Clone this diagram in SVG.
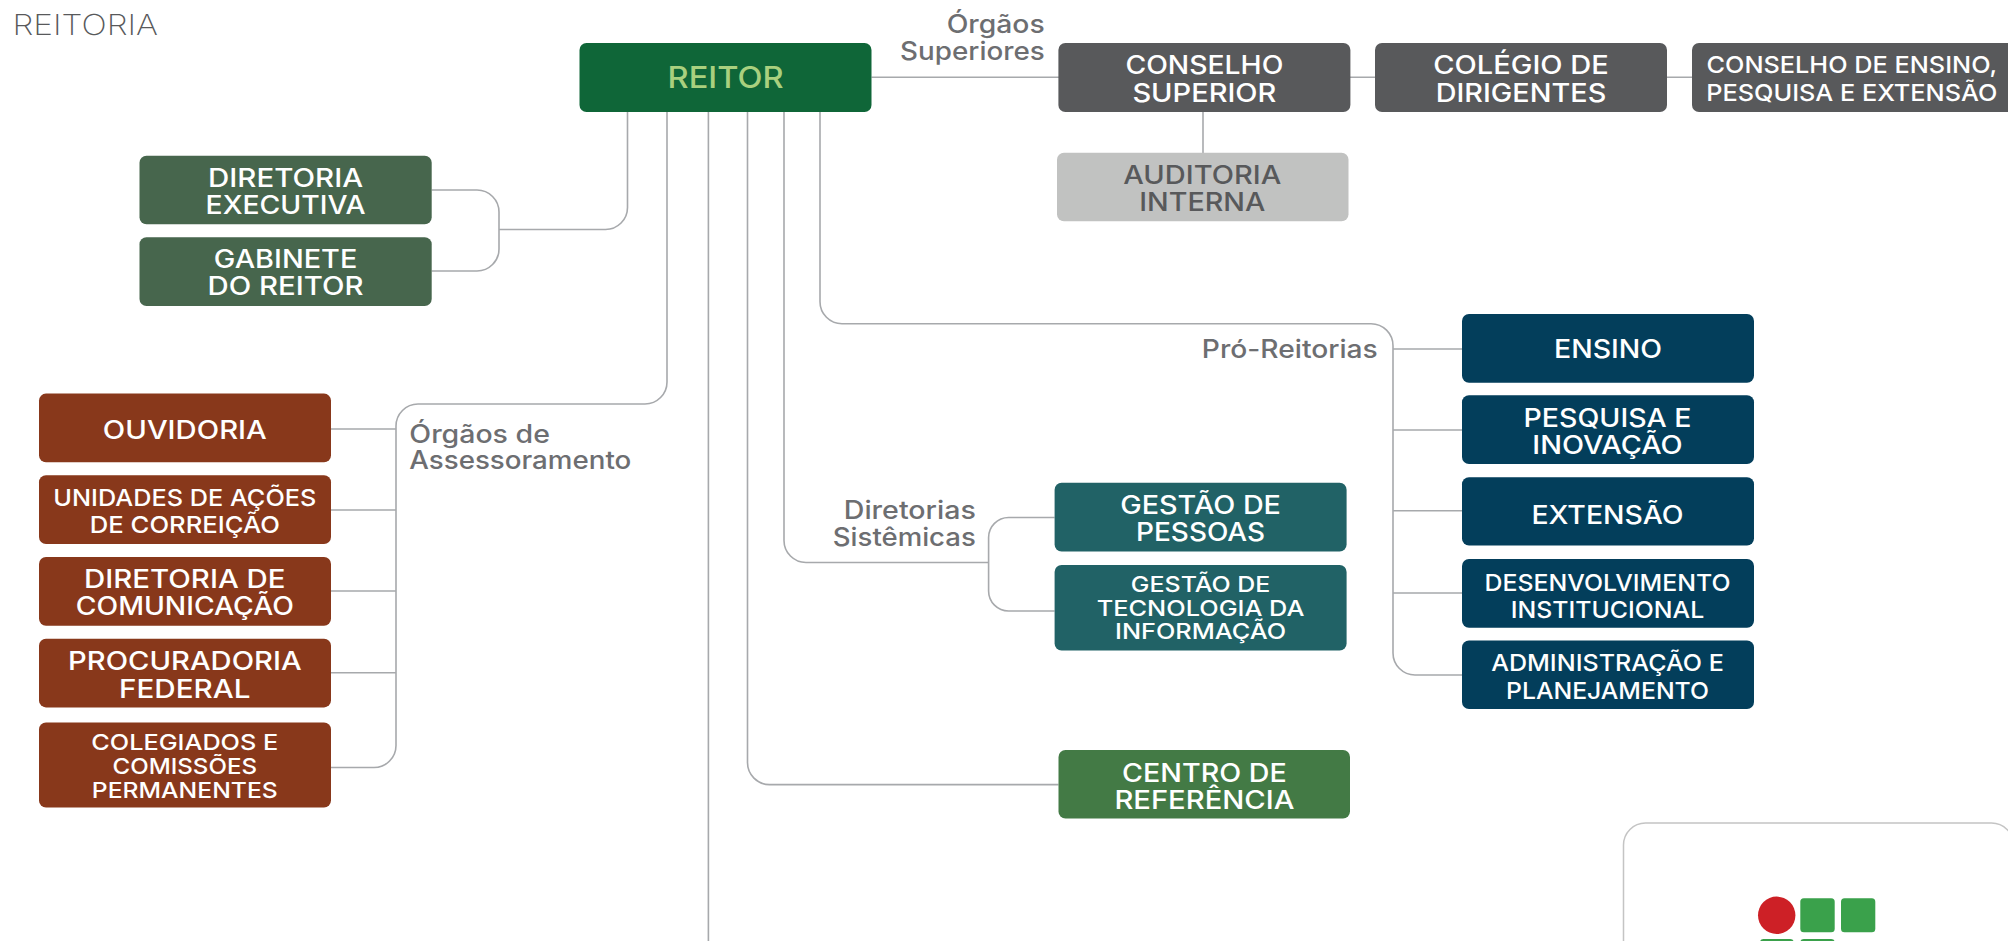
<svg xmlns="http://www.w3.org/2000/svg" width="2008" height="941" viewBox="0 0 2008 941">
<style>
text{font-family:"Inter","Liberation Sans",sans-serif;font-weight:500;text-anchor:middle;fill:#fff;font-size:25.2px}
.s{font-size:22px}
.m{font-size:23.5px}
.lab{fill:#6d6e71;font-size:25px}
.e{text-anchor:end}
.st{text-anchor:start}
.c{fill:none;stroke:#a7a9ac;stroke-width:1.6}
.d{fill:#3aa14b}
</style>
<rect width="2008" height="941" fill="#fff"/>
<text id="title" x="12.5" y="35" class="st" style="font-weight:200;fill:#58595b;font-size:29px" textLength="145.5" lengthAdjust="spacingAndGlyphs">REITORIA</text>
<g id="connectors" class="c">
<path d="M871.5 77.3H1692"/>
<path d="M1203 112V153"/>
<path d="M627.5 112V207.5a22 22 0 0 1-22 22H499"/>
<path d="M431.7 190H477a22 22 0 0 1 22 22V249a22 22 0 0 1-22 22H431.7"/>
<path d="M667 112V382a22 22 0 0 1-22 22H418a22 22 0 0 0-22 22V745.5a22 22 0 0 1-22 22H331"/>
<path d="M331 429H396M331 510H396M331 591H396M331 672.7H396"/>
<path d="M708.4 112V941"/>
<path d="M747.5 112V762.6a22 22 0 0 0 22 22H1058.5"/>
<path d="M784 112V540.5a22 22 0 0 0 22 22H988.6"/>
<path d="M1054.6 517.5H1008.6a20 20 0 0 0-20 20V591a20 20 0 0 0 20 20H1054.6"/>
<path d="M820 112V301.7a22 22 0 0 0 22 22H1371a22 22 0 0 1 22 22V653a22 22 0 0 0 22 22H1462"/>
<path d="M1393 349H1462M1393 430H1462M1393 510.8H1462M1393 593H1462"/>
</g>
<g id="reitor"><rect x="579.5" y="43" width="292" height="69" rx="7" fill="#0f6638"/><text x="725.6" y="88.3" style="fill:#a9d07f;font-size:30px" textLength="116" lengthAdjust="spacingAndGlyphs">REITOR</text></g>
<g id="diretoria-executiva"><rect x="139.5" y="155.7" width="292.2" height="68.6" rx="7" fill="#47664d"/><text x="285.6" y="187.3" textLength="155" lengthAdjust="spacingAndGlyphs">DIRETORIA</text><text x="285.6" y="214" textLength="160" lengthAdjust="spacingAndGlyphs">EXECUTIVA</text></g>
<g id="gabinete"><rect x="139.5" y="237.3" width="292.2" height="68.7" rx="7" fill="#47664d"/><text x="285.6" y="268.3" textLength="143.5" lengthAdjust="spacingAndGlyphs">GABINETE</text><text x="285.6" y="295.3" textLength="156" lengthAdjust="spacingAndGlyphs">DO REITOR</text></g>
<g id="conselho-superior"><rect x="1058.4" y="43" width="292" height="69" rx="7" fill="#58595b"/><text x="1204.4" y="74" textLength="158" lengthAdjust="spacingAndGlyphs">CONSELHO</text><text x="1204.4" y="101.6" textLength="144" lengthAdjust="spacingAndGlyphs">SUPERIOR</text></g>
<g id="colegio"><rect x="1375" y="43" width="292" height="69" rx="7" fill="#58595b"/><text x="1521" y="74" textLength="175.5" lengthAdjust="spacingAndGlyphs">COLÉGIO DE</text><text x="1521" y="101.6" textLength="170.5" lengthAdjust="spacingAndGlyphs">DIRIGENTES</text></g>
<g id="consepe"><rect x="1692" y="43" width="322" height="69" rx="7" fill="#58595b"/><text x="1851.8" y="73" class="m" textLength="290.6" lengthAdjust="spacingAndGlyphs">CONSELHO DE ENSINO,</text><text x="1851.8" y="100.5" class="m" textLength="291" lengthAdjust="spacingAndGlyphs">PESQUISA E EXTENSÃO</text></g>
<g id="auditoria"><rect x="1057" y="152.7" width="291.5" height="68.6" rx="7" fill="#c1c2c1"/><text x="1202.3" y="184.3" style="fill:#58595b" textLength="158" lengthAdjust="spacingAndGlyphs">AUDITORIA</text><text x="1202.3" y="211.3" style="fill:#58595b" textLength="126" lengthAdjust="spacingAndGlyphs">INTERNA</text></g>
<g id="label-superiores"><text x="1044.7" y="33" class="lab e" textLength="98" lengthAdjust="spacingAndGlyphs">Órgãos</text><text x="1044.7" y="60" class="lab e" textLength="144.6" lengthAdjust="spacingAndGlyphs">Superiores</text></g>
<g id="label-pro"><text x="1377.8" y="358.3" class="lab e" textLength="176" lengthAdjust="spacingAndGlyphs">Pró-Reitorias</text></g>
<g id="label-assess"><text x="409.3" y="442.6" class="lab st" textLength="140.6" lengthAdjust="spacingAndGlyphs">Órgãos de</text><text x="409.3" y="469.3" class="lab st" textLength="222" lengthAdjust="spacingAndGlyphs">Assessoramento</text></g>
<g id="label-sist"><text x="975.8" y="519.4" class="lab e" textLength="132" lengthAdjust="spacingAndGlyphs">Diretorias</text><text x="975.8" y="546.2" class="lab e" textLength="143" lengthAdjust="spacingAndGlyphs">Sistêmicas</text></g>
<g id="ensino"><rect x="1462" y="314" width="292" height="68.7" rx="7" fill="#033e5b"/><text x="1608" y="358.2" textLength="108" lengthAdjust="spacingAndGlyphs">ENSINO</text></g>
<g id="pesquisa"><rect x="1462" y="395.3" width="292" height="68.7" rx="7" fill="#033e5b"/><text x="1607.5" y="427.2" textLength="167.8" lengthAdjust="spacingAndGlyphs">PESQUISA E</text><text x="1607.5" y="454.1" textLength="150.4" lengthAdjust="spacingAndGlyphs">INOVAÇÃO</text></g>
<g id="extensao"><rect x="1462" y="477.3" width="292" height="68.3" rx="7" fill="#033e5b"/><text x="1607.5" y="524" textLength="152" lengthAdjust="spacingAndGlyphs">EXTENSÃO</text></g>
<g id="desenvolvimento"><rect x="1462" y="559" width="292" height="68.7" rx="7" fill="#033e5b"/><text x="1607.5" y="591.4" class="m" textLength="246" lengthAdjust="spacingAndGlyphs">DESENVOLVIMENTO</text><text x="1607.5" y="618.4" class="m" textLength="193.5" lengthAdjust="spacingAndGlyphs">INSTITUCIONAL</text></g>
<g id="administracao"><rect x="1462" y="640.5" width="292" height="68.5" rx="7" fill="#033e5b"/><text x="1607.5" y="671.4" class="m" textLength="232.7" lengthAdjust="spacingAndGlyphs">ADMINISTRAÇÃO E</text><text x="1607.5" y="699" class="m" textLength="203" lengthAdjust="spacingAndGlyphs">PLANEJAMENTO</text></g>
<g id="gestao-pessoas"><rect x="1054.6" y="482.8" width="292" height="68.7" rx="7" fill="#216266"/><text x="1200.6" y="513.6" textLength="160.7" lengthAdjust="spacingAndGlyphs">GESTÃO DE</text><text x="1200.6" y="540.6" textLength="129" lengthAdjust="spacingAndGlyphs">PESSOAS</text></g>
<g id="gestao-ti"><rect x="1054.6" y="565" width="292" height="85.5" rx="7" fill="#216266"/><text x="1200.6" y="592" class="s" textLength="139.5" lengthAdjust="spacingAndGlyphs">GESTÃO DE</text><text x="1200.6" y="616.1" class="s" textLength="207.6" lengthAdjust="spacingAndGlyphs">TECNOLOGIA DA</text><text x="1200.6" y="639.3" class="s" textLength="171" lengthAdjust="spacingAndGlyphs">INFORMAÇÃO</text></g>
<g id="centro"><rect x="1058.5" y="750" width="291.5" height="68.6" rx="7" fill="#437a45"/><text x="1204.4" y="781.6" textLength="164.6" lengthAdjust="spacingAndGlyphs">CENTRO DE</text><text x="1204.4" y="809.1" textLength="180" lengthAdjust="spacingAndGlyphs">REFERÊNCIA</text></g>
<g id="ouvidoria"><rect x="39" y="393.6" width="292" height="68.7" rx="7" fill="#88381b"/><text x="184.8" y="438.8" textLength="164" lengthAdjust="spacingAndGlyphs">OUVIDORIA</text></g>
<g id="unidades"><rect x="39" y="475.2" width="292" height="68.8" rx="7" fill="#88381b"/><text x="184.8" y="506.1" class="m" textLength="263" lengthAdjust="spacingAndGlyphs">UNIDADES DE AÇÕES</text><text x="184.8" y="532.9" class="m" textLength="190" lengthAdjust="spacingAndGlyphs">DE CORREIÇÃO</text></g>
<g id="comunicacao"><rect x="39" y="557" width="292" height="68.8" rx="7" fill="#88381b"/><text x="184.8" y="588" textLength="201.5" lengthAdjust="spacingAndGlyphs">DIRETORIA DE</text><text x="184.8" y="614.8" textLength="218" lengthAdjust="spacingAndGlyphs">COMUNICAÇÃO</text></g>
<g id="procuradoria"><rect x="39" y="638.7" width="292" height="68.7" rx="7" fill="#88381b"/><text x="184.8" y="670.3" textLength="233.6" lengthAdjust="spacingAndGlyphs">PROCURADORIA</text><text x="184.8" y="698.2" textLength="131.5" lengthAdjust="spacingAndGlyphs">FEDERAL</text></g>
<g id="colegiados"><rect x="39" y="722.4" width="292" height="85.2" rx="7" fill="#88381b"/><text x="184.8" y="750.4" class="s" textLength="187" lengthAdjust="spacingAndGlyphs">COLEGIADOS E</text><text x="184.8" y="774.4" class="s" textLength="144.6" lengthAdjust="spacingAndGlyphs">COMISSÕES</text><text x="184.8" y="798.4" class="s" textLength="186" lengthAdjust="spacingAndGlyphs">PERMANENTES</text></g>
<g id="logo">
<rect x="1623.5" y="823" width="390" height="140" rx="22" fill="#fff" stroke="#c4c4c4" stroke-width="1.5"/>
<circle cx="1776.7" cy="915.3" r="18.7" fill="#cd2026"/>
<rect class="d" x="1800.3" y="898.3" width="34.4" height="34" rx="3.5"/>
<rect class="d" x="1841" y="898.3" width="34.3" height="34" rx="3.5"/>
<rect class="d" x="1760" y="939" width="33.7" height="34" rx="3.5"/>
<rect class="d" x="1800.3" y="939" width="34.4" height="34" rx="3.5"/>
</g>
</svg>
